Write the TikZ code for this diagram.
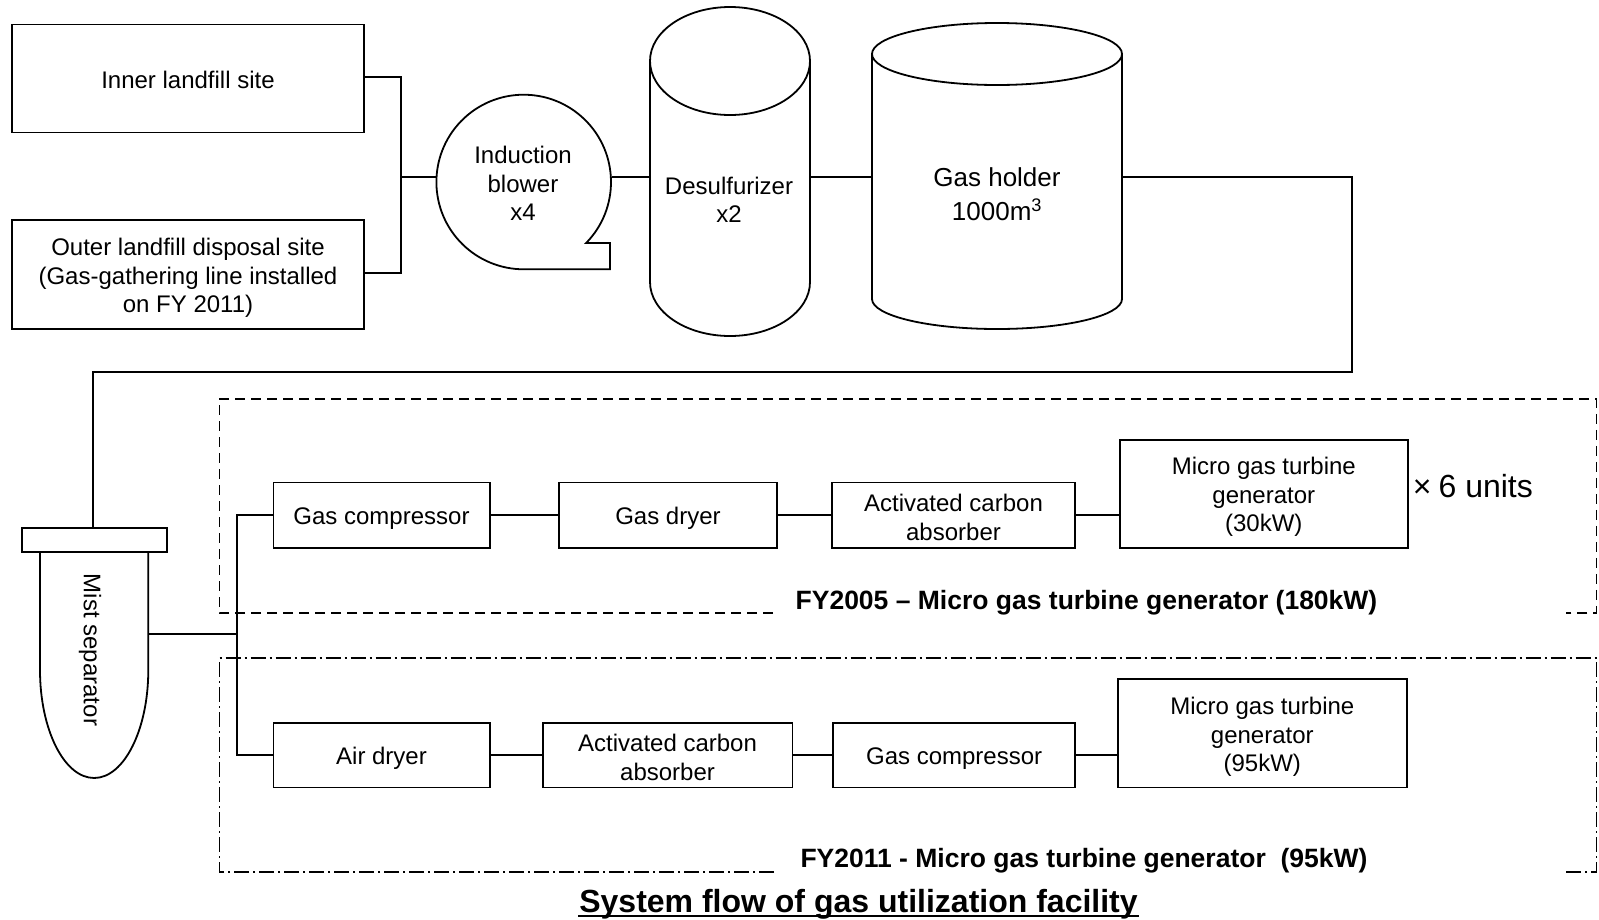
\documentclass[tikz,border=0pt]{standalone}
\usepackage{fontspec}
\setmainfont{Liberation Sans}
\begin{document}
\begin{tikzpicture}[x=1pt,y=-1pt, line width=1.8pt,
  box/.style={draw, rectangle, inner sep=0pt},
  hidden/.style={rectangle, inner sep=0pt},
  txt/.style={align=center, inner sep=0pt, font=\fontsize{24}{28.5}\selectfont},
  lab/.style={inner sep=0pt, font=\bfseries\fontsize{26.5}{30}\selectfont},
  dashedframe/.style={line width=1.5pt, dash pattern=on 10pt off 6pt},
  dashdotframe/.style={line width=1.5pt, dash pattern=on 15pt off 4pt on 2pt off 4pt}]
\useasboundingbox (0,0) rectangle (1599,919);

% sources
\node[box, minimum width=352, minimum height=108] (inner) at (188,78.5) {};
\node[txt] (innert) at ([yshift=-1pt]inner.center) {Inner landfill site};
\node[box, minimum width=352, minimum height=109] (outer) at (188,274.5) {};
\node[txt] (outert) at ([yshift=-3.5pt]outer.center) {Outer landfill disposal site\\(Gas-gathering line installed\\on FY 2011)};

% induction blower
\node[circle, inner sep=0pt, minimum size=174.6] (blower) at (523.7,182) {};
\draw (blower.center) ++(44.3:87.3) arc[start angle=44.3, end angle=-270, radius=87.3] -- (610,269.3) -- (610,243) -- cycle;
\node[txt] (blowert) at (523,183.6) {Induction\\blower\\x4};

% desulfurizer
\node[hidden, minimum width=160, minimum height=329] (desulf) at (730,171.5) {};
\draw (650,61) -- (650,282) arc[start angle=180, end angle=0, x radius=80, y radius=54] -- (810,61);
\draw (730,61) ellipse[x radius=80, y radius=54];
\node[txt] (desulft) at (729,200) {Desulfurizer\\x2};

% gas holder
\node[hidden, minimum width=250, minimum height=306] (holder) at (997,176) {};
\draw (872,54) -- (872,299) arc[start angle=180, end angle=0, x radius=125, y radius=30] -- (1122,54);
\draw (997,54) ellipse[x radius=125, y radius=31];
\node[txt, font=\fontsize{26}{34.5}\selectfont] (holdert) at (997,194) {Gas holder\\1000m\textsuperscript{3}};

% mist separator
\node[draw, inner sep=0pt, minimum width=145, minimum height=23.7] (mistcap) at (94.2,539.8) {};
\node[hidden, minimum width=108.3, minimum height=226] (mist) at (94.2,665) {};
\draw (40,551.7) -- (40,670) arc[start angle=180, end angle=0, x radius=54.15, y radius=108] -- (148.3,551.7);
\node[txt, rotate=-90] (mistt) at (90,650) {Mist separator};

% connectors, upper part
\coordinate (b1) at (401,77);
\coordinate (b2) at (401,273);
\coordinate (b3) at (401,177);
\draw (inner.east |- b1) -- (b1) -- (b2) -- (outer.east |- b2);
\draw (b3) -- (b3 -| blower.west);
\draw (blower.east |- b3) -- (b3 -| desulf.west);
\draw (desulf.east |- b3) -- (b3 -| holder.west);
\coordinate (c1) at (1352,177);
\coordinate (c2) at (1352,372);
\coordinate (c3) at (93,372);
\draw (holder.east |- c1) -- (c1) -- (c2) -- (c3) -- (c3 |- mistcap.north);

% FY2005 line
\node[box, minimum width=216.2, minimum height=65.2] (gc1) at (381.5,515.1) {};
\node[txt] (gc1t) at ([yshift=-3.5pt]gc1.center) {Gas compressor};
\node[box, minimum width=218, minimum height=65.2] (gd) at (668,515.1) {};
\node[txt] (gdt) at ([yshift=-3.5pt]gd.center) {Gas dryer};
\node[box, minimum width=243, minimum height=65.2] (ac1) at (953.5,515.1) {};
\node[txt] (ac1t) at ([yshift=-2.5pt]ac1.center) {Activated carbon\\absorber};
\node[box, minimum width=287.6, minimum height=108.1] (mgt1) at (1263.8,493.65) {};
\node[txt] (mgt1t) at ([yshift=-3.5pt]mgt1.center) {Micro gas turbine\\generator\\(30kW)};
\node[anchor=base west, inner sep=0pt, font=\fontsize{32}{38}\selectfont] (units) at (1412,497) {×\hspace{7pt}6 units};
\draw (gc1.east) -- (gd.west);
\draw (gd.east) -- (ac1.west);
\draw (ac1.east) -- (ac1.east -| mgt1.west);

% FY2011 line
\node[box, minimum width=216.2, minimum height=64.4] (ad) at (381.5,755.2) {};
\node[txt] (adt) at ([yshift=-3.5pt]ad.center) {Air dryer};
\node[box, minimum width=249.9, minimum height=64.4] (ac2) at (667.55,755.2) {};
\node[txt] (ac2t) at ([yshift=-2pt]ac2.center) {Activated carbon\\absorber};
\node[box, minimum width=241.7, minimum height=64.4] (gc2) at (954.15,755.2) {};
\node[txt] (gc2t) at ([yshift=-3.5pt]gc2.center) {Gas compressor};
\node[box, minimum width=288.6, minimum height=108.1] (mgt2) at (1262.3,733.35) {};
\node[txt] (mgt2t) at ([yshift=-3.5pt]mgt2.center) {Micro gas turbine\\generator\\(95kW)};
\draw (ad.east) -- (ac2.west);
\draw (ac2.east) -- (gc2.west);
\draw (gc2.east) -- (gc2.east -| mgt2.west);

% distribution bus
\coordinate (d0) at (236.7,515.1);
\coordinate (d1) at (236.7,634);
\coordinate (d2) at (236.7,755.2);
\draw (gc1.west) -- (d0) -- (d2) -- (ad.west);
\draw (mist.east |- d1) -- (d1);

% frames
\draw[dashedframe] (773,613) -- (219.3,613) -- (219.3,398.8) -- (1596.3,398.8) -- (1596.3,613) -- (1566,613);
\node[lab, anchor=base] (lab1) at (1086.5,609) {FY2005 – Micro gas turbine generator (180kW)};
\draw[dashdotframe] (774,872) -- (219.3,872) -- (219.3,658) -- (1596.3,658) -- (1596.3,872) -- (1566,872);
\node[lab, anchor=base] (lab2) at (1084,867) {FY2011 - Micro gas turbine generator \ (95kW)};

% title
\node[anchor=base, inner sep=0pt, font=\bfseries\fontsize{32}{38}\selectfont] (title) at (858.5,912) {System flow of gas utilization facility};
\draw[line width=2pt] ([yshift=-4pt]title.base west) -- ([yshift=-4pt]title.base east);
\end{tikzpicture}
\end{document}
